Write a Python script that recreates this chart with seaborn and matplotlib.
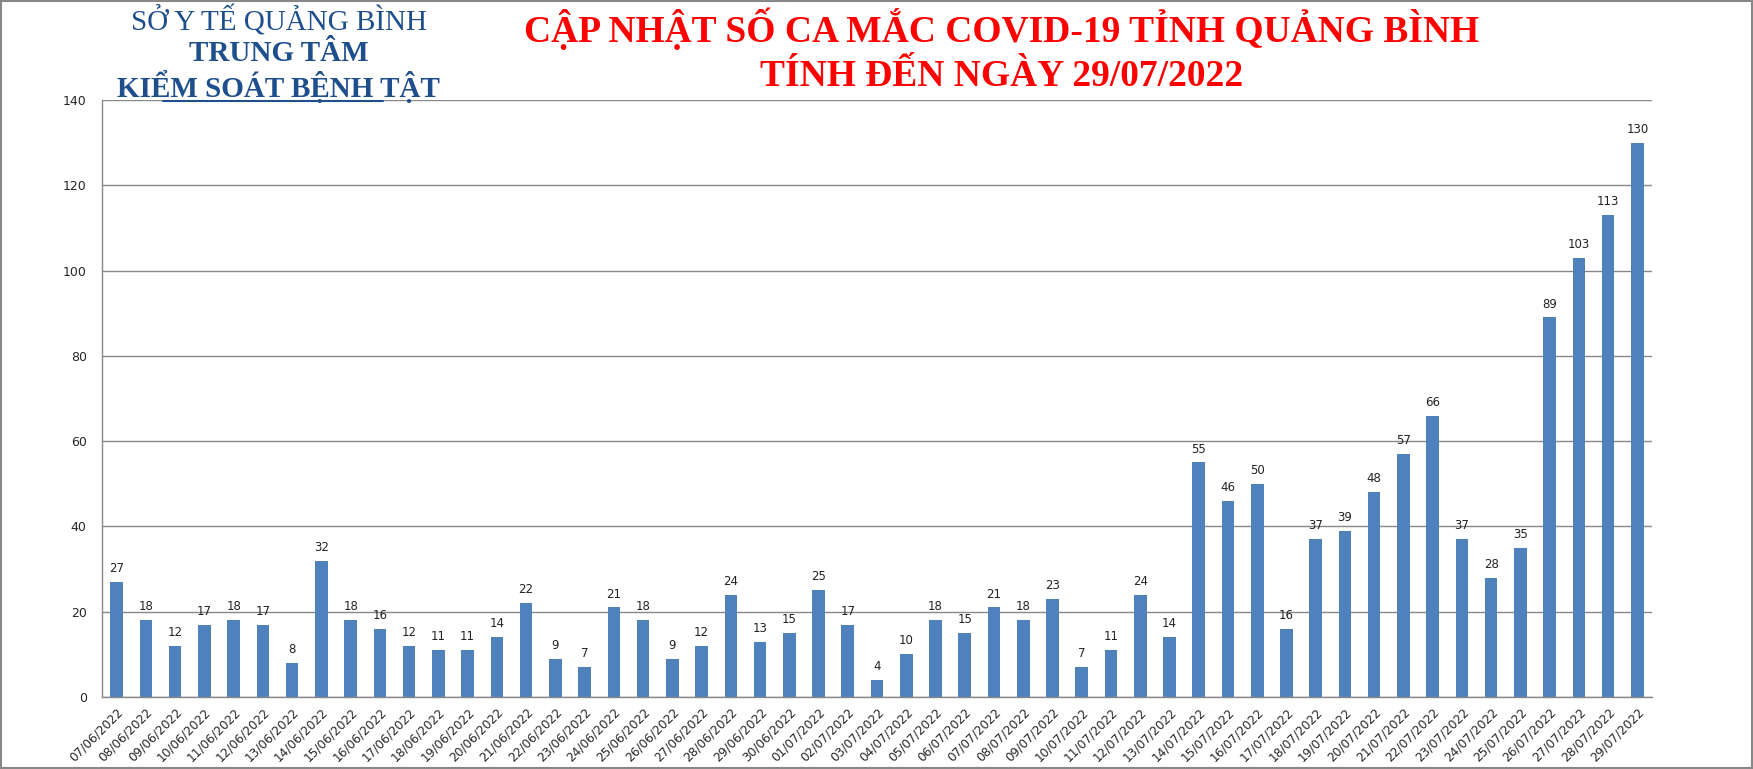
import matplotlib
matplotlib.use('Agg')
import matplotlib.pyplot as plt
import seaborn as sns
from matplotlib.patches import Rectangle
from matplotlib.lines import Line2D

# Daily new cases, Quang Binh province
dates = ['07/06/2022', '08/06/2022', '09/06/2022', '10/06/2022', '11/06/2022', '12/06/2022',
         '13/06/2022', '14/06/2022', '15/06/2022', '16/06/2022', '17/06/2022', '18/06/2022',
         '19/06/2022', '20/06/2022', '21/06/2022', '22/06/2022', '23/06/2022', '24/06/2022',
         '25/06/2022', '26/06/2022', '27/06/2022', '28/06/2022', '29/06/2022', '30/06/2022',
         '01/07/2022', '02/07/2022', '03/07/2022', '04/07/2022', '05/07/2022', '06/07/2022',
         '07/07/2022', '08/07/2022', '09/07/2022', '10/07/2022', '11/07/2022', '12/07/2022',
         '13/07/2022', '14/07/2022', '15/07/2022', '16/07/2022', '17/07/2022', '18/07/2022',
         '19/07/2022', '20/07/2022', '21/07/2022', '22/07/2022', '23/07/2022', '24/07/2022',
         '25/07/2022', '26/07/2022', '27/07/2022', '28/07/2022', '29/07/2022']
cases = [27, 18, 12, 17, 18, 17, 8, 32, 18, 16, 12, 11, 11, 14, 22, 9, 7, 21, 18, 9, 12, 24,
         13, 15, 25, 17, 4, 10, 18, 15, 21, 18, 23, 7, 11, 24, 14, 55, 46, 50, 16, 37, 39, 48,
         57, 66, 37, 28, 35, 89, 103, 113, 130]
y_ticks = [0, 20, 40, 60, 80, 100, 120, 140]

sns.set_style('white')
plt.rcParams['font.family'] = ['DejaVu Sans']

fig = plt.figure(figsize=(17.53, 7.69), dpi=100)
ax = fig.add_axes([0.0582, 0.0936, 0.8842, 0.7764])

sns.barplot(x=dates, y=cases, color='#4F81BD', saturation=1, width=0.43,
            linewidth=0, ax=ax)
ax.bar_label(ax.containers[0], padding=5, fontsize=8.5, color='#222222')

# Axes styling to look like the Excel chart
ax.set_xlim(-0.5, len(dates) - 0.5)
ax.set_ylim(0, 140)
ax.set_yticks(y_ticks)
ax.yaxis.grid(True, color='#888888', linewidth=1)
ax.set_axisbelow(True)
for s in ['top', 'right']:
    ax.spines[s].set_visible(False)
for s in ['left', 'bottom']:
    ax.spines[s].set_color('#888888')
    ax.spines[s].set_linewidth(1)
ax.tick_params(axis='y', length=5, color='#888888', labelsize=9, pad=6)
ax.tick_params(axis='x', which='major', length=0, labelsize=8.7, pad=6)
ax.set_xticks([i - 0.5 for i in range(len(dates) + 1)], minor=True)
ax.tick_params(axis='x', which='minor', length=5, color='#888888')
plt.setp(ax.get_xticklabels(), rotation=45, ha='right', rotation_mode='anchor')
ax.set_xlabel('')
ax.set_ylabel('')

# Header texts
blue = '#1F4E8C'
fig.text(0.159, 0.973, 'SỞ Y TẾ QUẢNG BÌNH', ha='center', va='center', fontsize=21,
         family='Liberation Serif', color=blue)
fig.text(0.159, 0.931, 'TRUNG TÂM', ha='center', va='center', fontsize=21,
         family='Liberation Serif', weight='bold', color=blue)
fig.text(0.159, 0.888, 'KIỂM SOÁT BỆNH TẬT', ha='center', va='center', fontsize=21,
         family='Liberation Serif', weight='bold', color=blue)
fig.add_artist(Line2D([163 / 1753, 383 / 1753], [1 - 101 / 769, 1 - 101 / 769],
                      color=blue, linewidth=1.5))

fig.text(0.5714, 0.963, 'CẬP NHẬT SỐ CA MẮC COVID-19 TỈNH QUẢNG BÌNH', ha='center',
         va='center', fontsize=27, family='Liberation Serif', weight='bold', color='#FF0000')
fig.text(0.5714, 0.9, 'TÍNH ĐẾN NGÀY 29/07/2022', ha='center', va='center', fontsize=27,
         family='Liberation Serif', weight='bold', color='#FF0000')

# Outer chart border
fig.add_artist(Rectangle((0.0008, 0.0013), 0.9984, 0.9974, transform=fig.transFigure,
                         fill=False, edgecolor='#888888', linewidth=1.5))

fig.savefig('out.png', dpi=100)
